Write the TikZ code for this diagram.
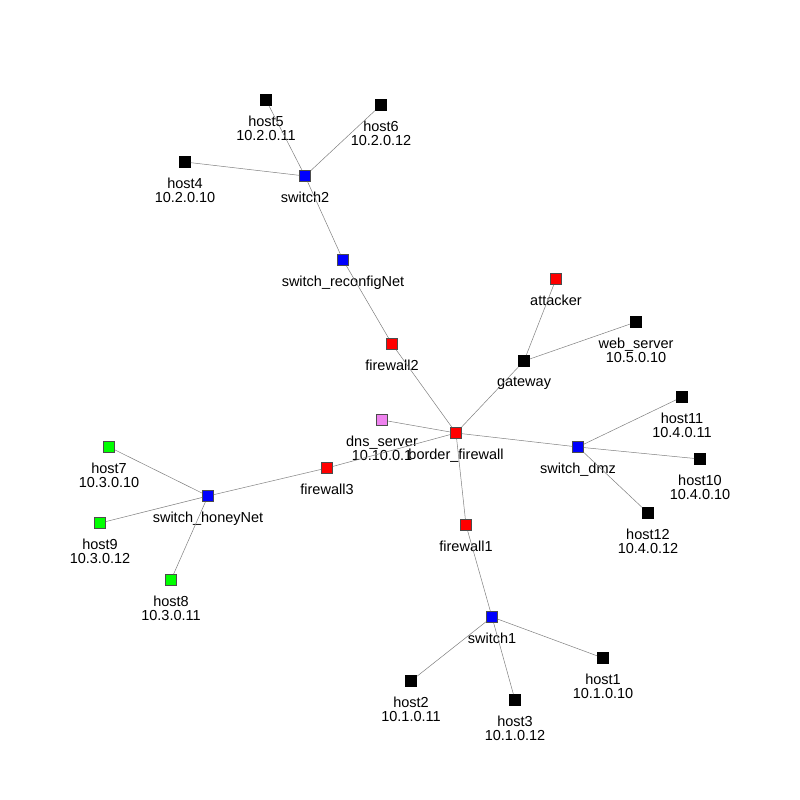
\documentclass[tikz,border=0pt]{standalone}
\usepackage{fontspec}
\setmainfont{Liberation Sans}
\definecolor{edgegray}{RGB}{128,128,128}
\definecolor{fwred}{RGB}{255,0,0}
\definecolor{swblue}{RGB}{0,0,255}
\definecolor{honeygreen}{RGB}{0,255,0}
\definecolor{dnsviolet}{RGB}{238,130,238}
\tikzset{
  dev/.style={draw=black!70, line width=0.8pt, minimum size=11pt, inner sep=0pt, rectangle},
  host/.style={dev, fill=black, draw=black},
  switch/.style={dev, fill=swblue},
  fw/.style={dev, fill=fwred},
  honey/.style={dev, fill=honeygreen},
  dns/.style={dev, fill=dnsviolet},
  lbl/.style={font=\fontsize{14.5}{14.2}\selectfont, align=center, inner sep=0pt, label distance=10pt},
  link/.style={edgegray, line width=0.5pt}
}

\begin{document}
\begin{tikzpicture}[x=1pt, y=-1pt]

    \useasboundingbox[fill=white] (0,0) rectangle (800,800);

    % reconfig net
    \node[host, label={[lbl]below:host5\\10.2.0.11}] (host5) at (266,100) {};
    \node[host, label={[lbl]below:host6\\10.2.0.12}] (host6) at (381,105) {};
    \node[host, label={[lbl]below:host4\\10.2.0.10}] (host4) at (185,162) {};
    \node[switch, label={[lbl]below:switch2}] (switch2) at (305,176) {};
    \node[switch, label={[lbl]below:switch\_reconfigNet}] (swreconf) at (343,260) {};
    \node[fw, label={[lbl]below:firewall2}] (firewall2) at (392,344) {};

    % outside
    \node[fw, label={[lbl]below:attacker}] (attacker) at (556,279) {};
    \node[host, label={[lbl]below:web\_server\\10.5.0.10}] (webserver) at (636,322) {};
    \node[host, label={[lbl]below:gateway}] (gateway) at (524,361) {};

    % core
    \node[dns, label={[lbl]below:dns\_server\\10.10.0.1}] (dnsserver) at (382,420) {};
    \node[fw, label={[lbl]below:border\_firewall}] (border) at (456,433) {};

    % dmz
    \node[host, label={[lbl]below:host11\\10.4.0.11}] (host11) at (682,397) {};
    \node[switch, label={[lbl]below:switch\_dmz}] (swdmz) at (578,447) {};
    \node[host, label={[lbl]below:host10\\10.4.0.10}] (host10) at (700,459) {};
    \node[host, label={[lbl]below:host12\\10.4.0.12}] (host12) at (648,513) {};

    % honey net
    \node[honey, label={[lbl]below:host7\\10.3.0.10}] (host7) at (109,447) {};
    \node[fw, label={[lbl]below:firewall3}] (firewall3) at (327,468) {};
    \node[switch, label={[lbl]below:switch\_honeyNet}] (swhoney) at (208,496) {};
    \node[honey, label={[lbl]below:host9\\10.3.0.12}] (host9) at (100,523) {};
    \node[honey, label={[lbl]below:host8\\10.3.0.11}] (host8) at (171,580) {};

    % net 1
    \node[fw, label={[lbl]below:firewall1}] (firewall1) at (466,525) {};
    \node[switch, label={[lbl]below:switch1}] (switch1) at (492,617) {};
    \node[host, label={[lbl]below:host1\\10.1.0.10}] (host1) at (603,658) {};
    \node[host, label={[lbl]below:host2\\10.1.0.11}] (host2) at (411,681) {};
    \node[host, label={[lbl]below:host3\\10.1.0.12}] (host3) at (515,700) {};

    \foreach \a/\b in {switch2/host4, switch2/host5, switch2/host6, switch2/swreconf,
        swreconf/firewall2, firewall2/border, border/gateway, gateway/attacker,
        gateway/webserver, border/dnsserver, border/swdmz, swdmz/host11,
        swdmz/host10, swdmz/host12, border/firewall3, firewall3/swhoney,
        swhoney/host7, swhoney/host8, swhoney/host9, border/firewall1,
        firewall1/switch1, switch1/host1, switch1/host2, switch1/host3}
      \draw[link] (\a) -- (\b);

\end{tikzpicture}
\end{document}
